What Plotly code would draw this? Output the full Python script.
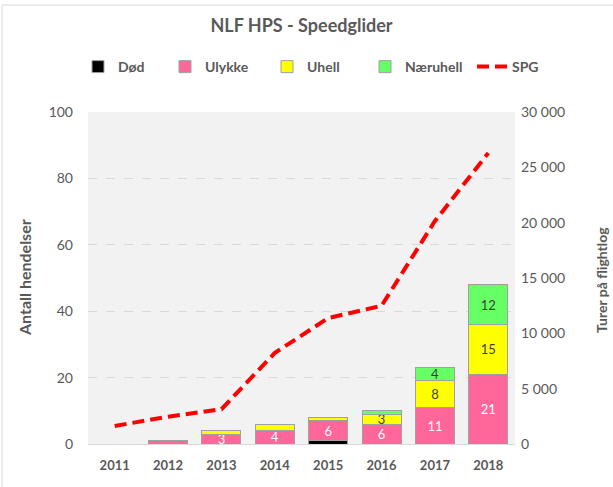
import plotly.graph_objects as go

years = ["2011", "2012", "2013", "2014", "2015", "2016", "2017", "2018"]
dod = [0, 0, 0, 0, 1, 0, 0, 0]
ulykke = [0, 1, 3, 4, 6, 6, 11, 21]
uhell = [0, 0, 1, 2, 1, 3, 8, 15]
naeruhell = [0, 0, 0, 0, 0, 1, 4, 12]
spg = [1630, 2470, 3140, 8230, 11380, 12490, 20150, 26300]

left_ticks = [0, 20, 40, 60, 80, 100]
right_ticks = [0, 5000, 10000, 15000, 20000, 25000, 30000]

FONT = "Lato"
GRAY = "#595959"


def labels(vals):
    return [str(v) if v >= 3 else "" for v in vals]


fig = go.Figure()
bar_line = dict(color="#a0a0a0", width=1)
series = [
    ("Død", dod, "#000000", "#ffffff", 42),
    ("Ulykke", ulykke, "#ff6699", "#ffffff", 57),
    ("Uhell", uhell, "#ffff00", "#404040", 53),
    ("Næruhell", naeruhell, "#66ff66", "#404040", 62),
]
for name, vals, col, tcol, lw in series:
    fig.add_trace(go.Bar(
        x=years, y=vals, name=name,
        marker=dict(color=col, line=bar_line),
        text=labels(vals), textposition="inside", insidetextanchor="middle",
        textangle=0,
        textfont=dict(family=FONT, size=13, color=tcol),
        constraintext="none", cliponaxis=False,
        legendwidth=lw,
        hoverinfo="x+y+name",
    ))

fig.add_trace(go.Scatter(
    x=years, y=spg, name="SPG", yaxis="y2", mode="lines",
    line=dict(color="#ff0000", width=4, dash="12px,6px"),
    legendwidth=45,
))

L, R, T, B = 88, 98, 112, 43
W, H = 613, 487
pw, ph = W - L - R, H - T - B

fig.update_layout(
    width=W, height=H,
    margin=dict(l=L, r=R, t=T, b=B, autoexpand=False),
    paper_bgcolor="#ffffff", plot_bgcolor="#f2f2f2",
    barmode="stack", bargap=0.27,
    separators=". ",
    font=dict(family=FONT, color=GRAY),
    uniformtext=dict(minsize=13, mode="show"),
    title=dict(text="<b>NLF HPS - Speedglider</b>", x=0.5, xanchor="center",
               xref="paper", y=1 - 26 / H, yanchor="middle",
               font=dict(family=FONT, size=18, color=GRAY)),
    legend=dict(orientation="h", traceorder="normal",
                x=(78 - L) / pw, xanchor="left",
                y=1 + (T - 67) / ph, yanchor="middle",
                font=dict(family=FONT, size=14, color=GRAY, weight="bold"),
                bgcolor="rgba(0,0,0,0)", itemwidth=30, tracegroupgap=0),
    xaxis=dict(showgrid=False, showline=True, linecolor="#d9d9d9",
               tickfont=dict(family=FONT, size=13, color=GRAY, weight="bold"),
               ticks="", ticklabelstandoff=9),
    yaxis=dict(range=[0, 100], tickvals=left_ticks, showgrid=True,
               gridcolor="#d9d9d9", griddash="dash", zeroline=False,
               tickfont=dict(family=FONT, size=14, color=GRAY),
               ticks="", ticklabelstandoff=14),
    yaxis2=dict(range=[0, 30000], tickvals=right_ticks, overlaying="y",
                side="right", showgrid=False, zeroline=False,
                tickformat=",d",
                tickfont=dict(family=FONT, size=14, color=GRAY),
                ticks="", ticklabelstandoff=5),
    annotations=[
        dict(text="<b>Antall hendelser</b>", textangle=-90, xref="paper",
             yref="paper", x=(24 - L) / pw, y=(444 - 278) / ph,
             xanchor="center", yanchor="middle", showarrow=False,
             font=dict(family=FONT, size=16, color=GRAY)),
        dict(text="<b>Turer på flightlog</b>", textangle=-90, xref="paper",
             yref="paper", x=(601 - L) / pw, y=(444 - 280) / ph,
             xanchor="center", yanchor="middle", showarrow=False,
             font=dict(family=FONT, size=14, color=GRAY)),
    ],
    shapes=[
        dict(type="line", xref="paper", yref="paper",
             x0=(2 - L) / pw, x1=(W + 5 - L) / pw,
             y0=1 + (T - 5) / ph, y1=1 + (T - 5) / ph,
             line=dict(color="#d9d9d9", width=1)),
        dict(type="line", xref="paper", yref="paper",
             x0=(2 - L) / pw, x1=(2 - L) / pw,
             y0=1 + (T - 5) / ph, y1=-(B + 5) / ph,
             line=dict(color="#d9d9d9", width=1)),
    ],
)

fig.write_html("out.html",
               config={"displayModeBar": False},
               post_script="document.body.style.margin='0';"
                           "document.body.style.overflow='hidden';")
